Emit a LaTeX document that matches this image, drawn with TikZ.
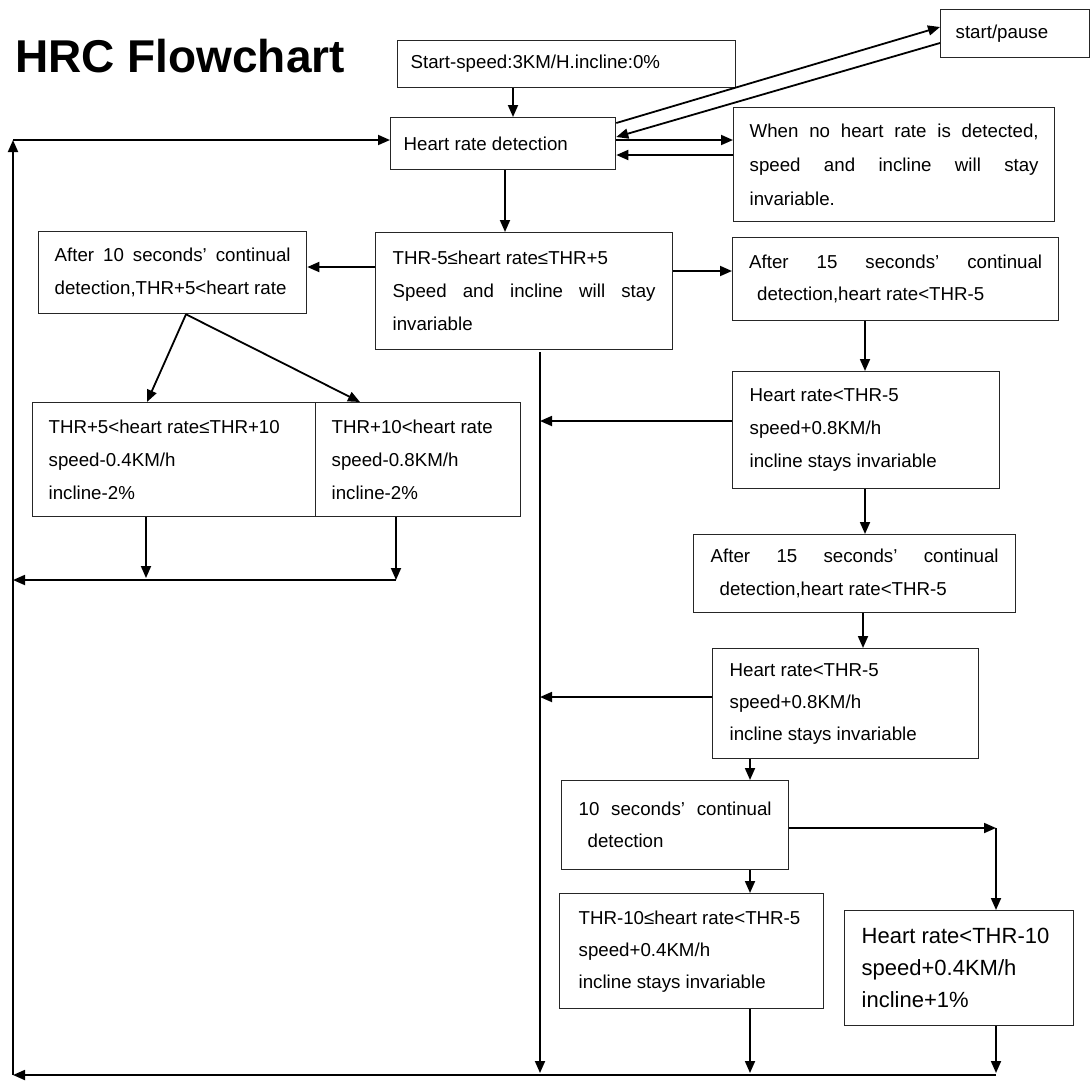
\documentclass[tikz,border=0pt]{standalone}
\usepackage{fontspec}
\setmainfont{Liberation Sans}
\usetikzlibrary{arrows.meta}
\newcommand\jl[2]{\makebox[#1][s]{\spaceskip=.278em plus 1fil\relax #2}}
\begin{document}
\begin{tikzpicture}[x=1pt,y=-1pt,
  box/.style={draw=black!85, line width=1.3pt, rectangle, inner sep=0pt, anchor=north west,
    align=left, font=\fontsize{18.7}{33}\selectfont,
    execute at begin node={\spaceskip=0pt\xspaceskip=0pt\relax}},
  arr/.style={line width=1.8pt, -{Triangle[length=12pt,width=10pt]}},
  ln/.style={line width=1.8pt}]
\fill[white] (0,0) rectangle (1092,1080);
\useasboundingbox (0,0) rectangle (1092,1080);

% title
\node[anchor=base west, inner sep=0pt, font=\bfseries\fontsize{46}{50}\selectfont] (title) at (15,72) {HRC Flowchart};

% boxes
\node[box, minimum width=338pt, minimum height=47pt, text width=312pt] (start) at (397,40) {Start-speed:3KM/H.incline:0\%};
\node[box, minimum width=149pt, minimum height=48pt, text width=119pt] (spause) at (940,9) {start/pause};
\node[box, minimum width=225pt, minimum height=52pt, text width=199pt] (HRD) at (390,117) {Heart rate detection};
\node[box, minimum width=321pt, minimum height=114pt, text width=289pt, font=\fontsize{18.7}{34}\selectfont] (noHR) at (733,107)
  {\jl{289pt}{When no heart rate is detected,}\\\jl{289pt}{speed and incline will stay}\\invariable.};
\node[box, minimum width=297pt, minimum height=117pt, text width=263pt] (THR) at (375,232)
  {THR-5≤heart rate≤THR+5\\\jl{263pt}{Speed and incline will stay}\\invariable};
\node[box, minimum width=268pt, minimum height=82pt, text width=236pt] (after10) at (38,231)
  {\jl{236pt}{After 10 seconds’ continual}\\detection,THR+5<heart rate};
\node[box, minimum width=283pt, minimum height=114pt, text width=251pt] (splitL) at (32,402)
  {THR+5<heart rate≤THR+10\\speed-0.4KM/h\\incline-2\%};
\node[box, minimum width=205pt, minimum height=114pt, text width=173pt] (splitR) at (315,402)
  {THR+10<heart rate\\speed-0.8KM/h\\incline-2\%};
\node[box, minimum width=326pt, minimum height=83pt, text width=293pt, font=\fontsize{18.7}{32}\selectfont] (after15a) at (732,237)
  {\jl{293pt}{After 15 seconds’ continual}\\\hspace*{8pt}detection,heart rate<THR-5};
\node[box, minimum width=267pt, minimum height=117pt, text width=233pt] (hr1) at (732,371)
  {Heart rate<THR-5\\speed+0.8KM/h\\incline stays invariable};
\node[box, minimum width=322pt, minimum height=78pt, text width=288pt] (after15b) at (693,534)
  {\jl{288pt}{After 15 seconds’ continual}\\\hspace*{9pt}detection,heart rate<THR-5};
\node[box, minimum width=266pt, minimum height=110pt, text width=232pt, font=\fontsize{18.7}{32}\selectfont] (hr2) at (712,648)
  {Heart rate<THR-5\\speed+0.8KM/h\\incline stays invariable};
\node[box, minimum width=227pt, minimum height=89pt, text width=193pt, font=\fontsize{18.7}{32}\selectfont] (tensec) at (561,780)
  {\jl{193pt}{10 seconds’ continual}\\\hspace*{9pt}detection};
\node[box, minimum width=264pt, minimum height=115pt, text width=226pt, font=\fontsize{18.7}{32}\selectfont] (thr10) at (559,893)
  {THR-10≤heart rate<THR-5\\speed+0.4KM/h\\incline stays invariable};
\node[box, minimum width=229pt, minimum height=115pt, text width=195pt, font=\fontsize{22}{32}\selectfont] (hr10) at (844,910)
  {Heart rate<THR-10\\speed+0.4KM/h\\incline+1\%};

% free-end coordinates
\coordinate (tl) at (13,140);
\coordinate (bl) at (13,1075);
\coordinate (br) at (996,1075);
\coordinate (cv) at (540,352);
\coordinate (cb) at (540,1073);
\coordinate (c1) at (540,421);
\coordinate (c2) at (540,697);
\coordinate (rk) at (996,828);
\coordinate (la) at (146,578);
\coordinate (lb) at (396,580);
\coordinate (lc) at (13,580);
\coordinate (b1) at (750,1073);
\coordinate (b2) at (996,1073);

% connectors
\draw[arr] (start.south -| 513,0) -- (HRD.north -| 513,0);
\draw[arr] (HRD.east |- 0,123) -- (spause.west |- 0,27);
\draw[arr] (spause.west |- 0,43) -- (HRD.east |- 0,137);
\draw[arr] (HRD.east |- 0,140) -- (noHR.west |- 0,140);
\draw[arr] (noHR.west |- 0,155) -- (HRD.east |- 0,155);
\draw[arr] (HRD.south -| 505,0) -- (THR.north -| 505,0);
\draw[arr] (THR.west |- 0,267) -- (after10.east |- 0,267);
\draw[arr] (THR.east |- 0,271) -- (after15a.west |- 0,271);
\draw[arr] (after10.south -| 186,0) -- (splitL.north -| 147,0);
\draw[arr] (after10.south -| 186,0) -- (splitR.north -| 360,0);
\draw[arr] (splitL.south -| la) -- (la);
\draw[arr] (splitR.south -| lb) -- (lb);
\draw[arr] (lb) -- (lc);

\draw[arr] (br) -- (bl);
\draw[arr] (bl) -- (tl);
\draw[arr] (tl) -- (HRD.west |- tl);

\draw[arr] (cv) -- (cb);
\draw[arr] (hr1.west |- c1) -- (c1);
\draw[arr] (hr2.west |- c2) -- (c2);

\draw[arr] (after15a.south -| 865,0) -- (hr1.north -| 865,0);
\draw[arr] (hr1.south -| 865,0) -- (after15b.north -| 865,0);
\draw[arr] (after15b.south -| 863,0) -- (hr2.north -| 863,0);
\draw[arr] (hr2.south -| 750,0) -- (tensec.north -| 750,0);
\draw[arr] (tensec.south -| 750,0) -- (thr10.north -| 750,0);
\draw[arr] (tensec.east |- rk) -- (rk);
\draw[arr] (rk) -- (hr10.north -| rk);
\draw[arr] (thr10.south -| b1) -- (b1);
\draw[arr] (hr10.south -| b2) -- (b2);
\end{tikzpicture}
\end{document}
